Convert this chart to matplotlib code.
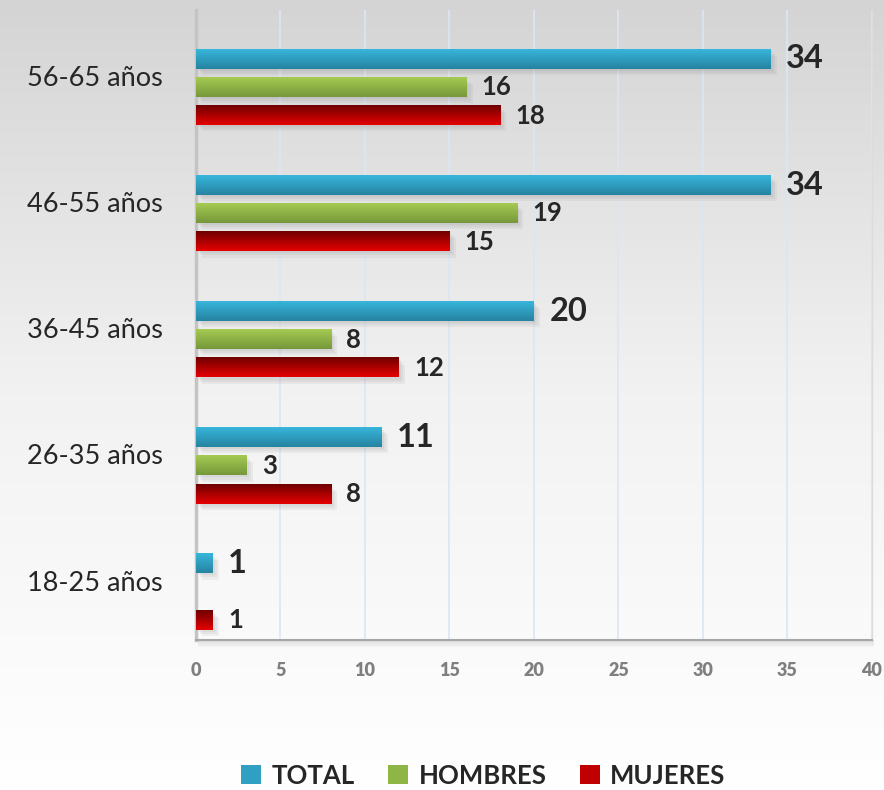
import numpy as np
import matplotlib.pyplot as plt
import matplotlib.transforms as mtransforms
from matplotlib.colors import LinearSegmentedColormap
from matplotlib.patches import Patch, Rectangle

plt.rcParams["font.family"] = ["Lato", "DejaVu Sans"]

grupos = ["18-25 años", "26-35 años", "36-45 años", "46-55 años", "56-65 años"]
total = [1, 11, 20, 34, 34]
hombres = [0, 3, 8, 19, 16]
mujeres = [1, 8, 12, 15, 18]
series_names = ["TOTAL", "HOMBRES", "MUJERES"]

# (top colour, bottom colour) for each series gradient
grad_colors = {
    "TOTAL": ("#38b6dc", "#2583a0"),
    "HOMBRES": ("#a6cb52", "#76973a"),
    "MUJERES": ("#6e0000", "#e60000"),
}
legend_colors = {"TOTAL": "#2f9fc2", "HOMBRES": "#8fb546", "MUJERES": "#c00000"}

fig = plt.figure(figsize=(8.84, 7.9), dpi=100)

# vertical grey-to-white background
bg = fig.add_axes([0, 0, 1, 1], zorder=-10)
grad = np.linspace(0, 1, 256).reshape(-1, 1)
bg_cmap = LinearSegmentedColormap.from_list("bg", ["#d4d4d4", "#f2f2f2", "#ffffff"])
bg.imshow(grad, aspect="auto", cmap=bg_cmap, extent=[0, 1, 0, 1], origin="upper")
bg.axis("off")

ax = fig.add_axes([0.2217, 0.19, 0.7647, 0.797])
ax.patch.set_alpha(0)

y = np.arange(len(grupos))
off = 0.224
h = 0.152
ylo, yhi = -0.38, 4.61

# a few offset copies give a soft drop shadow
shadow_trs = [mtransforms.offset_copy(ax.transData, fig=fig, x=dx, y=-dx, units="points")
              for dx in (1.5, 3, 4.5)]

for vals, name, dy, fs in [(total, "TOTAL", off, 23.5),
                           (hombres, "HOMBRES", 0, 18.5),
                           (mujeres, "MUJERES", -off, 18.5)]:
    c_top, c_bot = grad_colors[name]
    cmap = LinearSegmentedColormap.from_list(name, [c_bot, c_top])
    bars = ax.barh(y + dy, vals, height=h, color="none", zorder=3)
    for b, v in zip(bars, vals):
        if v == 0:
            continue
        x0, y0 = b.get_x(), b.get_y()
        w, hh = b.get_width(), b.get_height()
        for tr in shadow_trs:
            ax.add_patch(Rectangle((x0, y0), w, hh, transform=tr,
                                   facecolor="#808080", alpha=0.09, lw=0, zorder=2))
        ax.imshow(grad, aspect="auto", cmap=cmap, origin="lower",
                  extent=[x0, x0 + w, y0, y0 + hh], zorder=3)
        ax.annotate(str(v), (v, y0 + hh / 2), xytext=(11, 0), textcoords="offset points",
                    ha="left", va="center", fontsize=fs, fontweight="bold",
                    color="#262626", zorder=5)

ax.set_xlim(0, 40)
ax.set_ylim(ylo, yhi)
ax.set_xticks(range(0, 41, 5))
ax.set_yticks(y + 0.09)
ax.set_yticklabels(grupos, fontsize=19.5, color="#262626")
ax.tick_params(axis="y", length=0, pad=24)
ax.tick_params(axis="x", length=0, pad=16, labelsize=13, labelcolor="#7f7f7f")
for lbl in ax.get_xticklabels():
    lbl.set_fontweight("heavy")

ax.grid(axis="x", color="#dce6f2", lw=1.2, zorder=0)
ax.spines["top"].set_visible(False)
ax.spines["left"].set_color("#c4c4c4")
ax.spines["left"].set_linewidth(2.5)
ax.spines["bottom"].set_color("#a6a6a6")
ax.spines["bottom"].set_linewidth(1.5)
ax.spines["right"].set_color("#dcdcdc")
ax.spines["right"].set_linewidth(1)

# soft shadow under the plot frame
for k in range(6):
    fig.patches.append(Rectangle((0.2217 + 0.002, 0.19 - 0.0015 * (k + 1)), 0.7647, 0.0015,
                                 transform=fig.transFigure, facecolor="#808080",
                                 alpha=0.25 * (1 - k / 6), lw=0, zorder=-5))

handles = [Patch(facecolor=legend_colors[n], edgecolor="none") for n in series_names]
fig.legend(handles, series_names, loc="center", bbox_to_anchor=(0.547, 0.018), ncol=3,
           frameon=False, handlelength=0.78, handleheight=0.78, handletextpad=0.4,
           columnspacing=1.3, prop={"weight": "bold", "size": 18.5})
for t in fig.legends[0].get_texts():
    t.set_color("#262626")

fig.savefig("out.png", dpi=100)
